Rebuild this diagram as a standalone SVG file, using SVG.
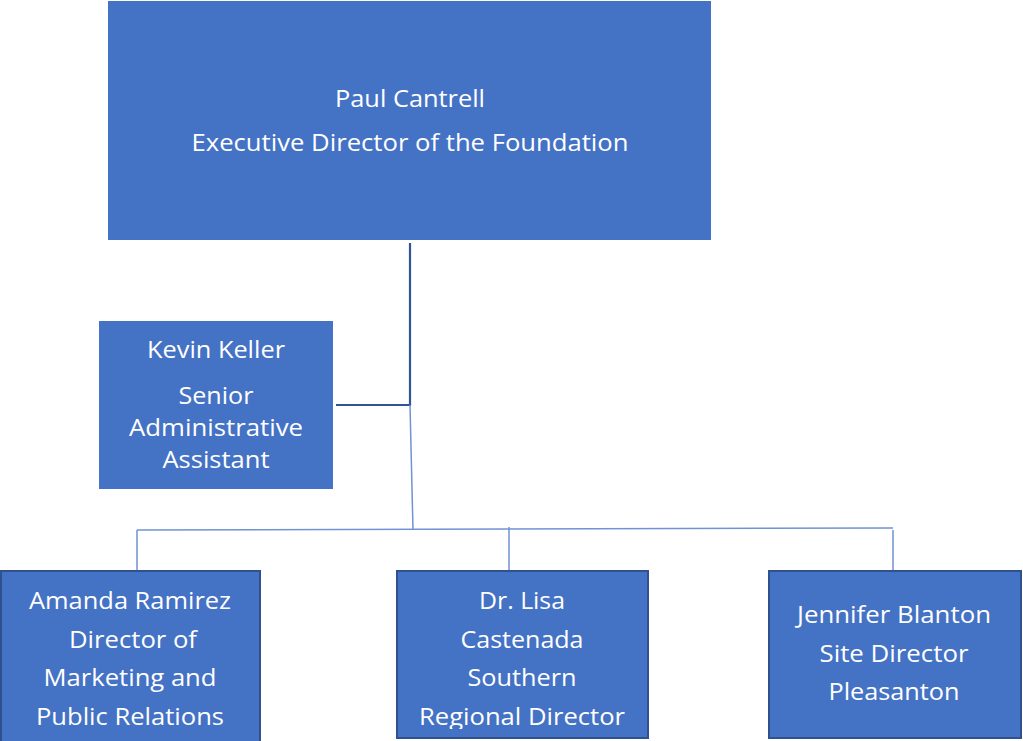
<svg xmlns="http://www.w3.org/2000/svg" width="1023" height="741" viewBox="0 0 1023 741">
<style>
.box{fill:#4472C4;}
.bb{fill:#4472C4;stroke:#2F528F;stroke-width:2;}
.t{fill:#FFFFFF;font-family:"Open Sans","Noto Sans","Liberation Sans",sans-serif;font-size:23px;text-anchor:middle;}
.dk{stroke:#2F5597;stroke-width:2.2;fill:none;}
.lt{stroke:#6F93D3;stroke-width:1.5;fill:none;}
</style>
<defs>
<clipPath id="clipLisa"><rect x="396" y="570" width="253" height="159"/></clipPath>
</defs>
<rect width="1023" height="741" fill="#FFFFFF"/>
<g id="connectors">
<polyline class="dk" points="410,243 410,405 336,405"/>
<line class="lt" x1="410" y1="405" x2="413" y2="530"/>
<line class="lt" x1="137" y1="530" x2="893" y2="528"/>
<line class="lt" x1="137" y1="530" x2="137" y2="570"/>
<line class="lt" x1="509" y1="527" x2="509" y2="570"/>
<line class="lt" x1="893" y1="530" x2="893" y2="570"/>
</g>
<g id="node-paul">
<rect class="box" x="108" y="1" width="603" height="239"/>
<text class="t" x="410" y="107" textLength="150" lengthAdjust="spacingAndGlyphs">Paul Cantrell</text>
<text class="t" x="410" y="151" textLength="437" lengthAdjust="spacingAndGlyphs">Executive Director of the Foundation</text>
</g>
<g id="node-kevin">
<rect class="box" x="99" y="321" width="234" height="168"/>
<text class="t" x="216" y="358" textLength="138" lengthAdjust="spacingAndGlyphs">Kevin Keller</text>
<text class="t" x="216" y="404" textLength="75" lengthAdjust="spacingAndGlyphs">Senior</text>
<text class="t" x="216" y="436" textLength="174" lengthAdjust="spacingAndGlyphs">Administrative</text>
<text class="t" x="216" y="468" textLength="107" lengthAdjust="spacingAndGlyphs">Assistant</text>
</g>
<g id="node-amanda">
<rect class="bb" x="1" y="571" width="259" height="175"/>
<text class="t" x="130" y="609" textLength="202" lengthAdjust="spacingAndGlyphs">Amanda Ramirez</text>
<text class="t" x="133" y="648" textLength="128" lengthAdjust="spacingAndGlyphs">Director of</text>
<text class="t" x="130" y="686" textLength="173" lengthAdjust="spacingAndGlyphs">Marketing and</text>
<text class="t" x="130" y="725" textLength="188" lengthAdjust="spacingAndGlyphs">Public Relations</text>
</g>
<g id="node-lisa">
<rect class="bb" x="397" y="571" width="251" height="167"/>
<g clip-path="url(#clipLisa)">
<text class="t" x="522" y="609" textLength="86" lengthAdjust="spacingAndGlyphs">Dr. Lisa</text>
<text class="t" x="522" y="648" textLength="123" lengthAdjust="spacingAndGlyphs">Castenada</text>
<text class="t" x="522" y="686" textLength="109" lengthAdjust="spacingAndGlyphs">Southern</text>
<text class="t" x="522" y="725" textLength="206" lengthAdjust="spacingAndGlyphs">Regional Director</text>
</g>
</g>
<g id="node-jennifer">
<rect class="bb" x="769" y="571" width="252" height="167"/>
<text class="t" x="894" y="623" textLength="194" lengthAdjust="spacingAndGlyphs">Jennifer Blanton</text>
<text class="t" x="894" y="662" textLength="149" lengthAdjust="spacingAndGlyphs">Site Director</text>
<text class="t" x="894" y="700" textLength="131" lengthAdjust="spacingAndGlyphs">Pleasanton</text>
</g>
</svg>
